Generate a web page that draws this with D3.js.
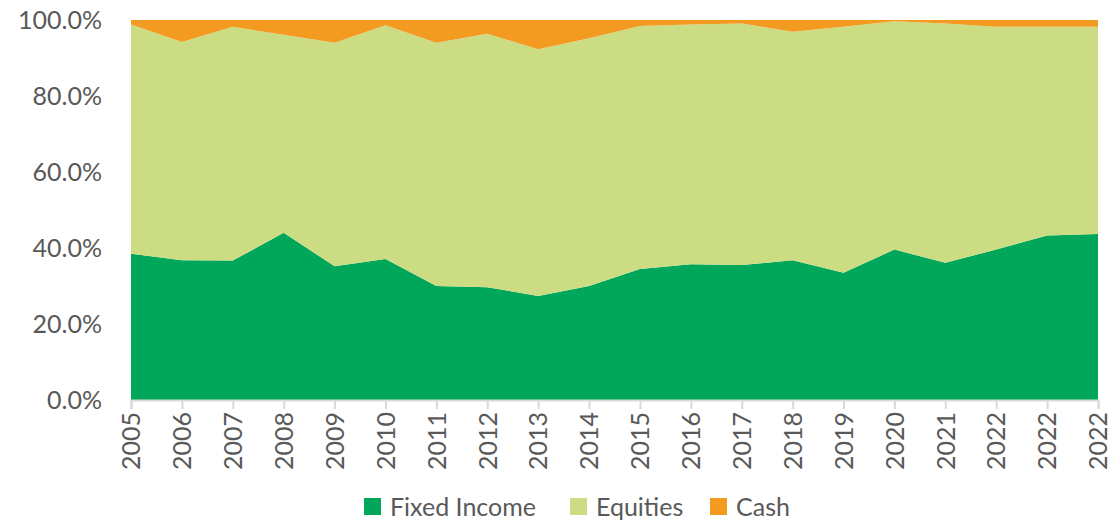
<!DOCTYPE html>
<html>
<head>
<meta charset="utf-8">
<script src="https://cdn.jsdelivr.net/npm/d3@7"></script>
<style>
  body { margin: 0; background: #fff; }
  svg text { font-family: "Lato", "Noto Sans", sans-serif; fill: #595959; }
</style>
</head>
<body>
<div id="vis"></div>
<script>
const margin = { top: 20, right: 11, bottom: 120, left: 131 };
const width = 1109;
const height = 520;

const years = ["2005", "2006", "2007", "2008", "2009", "2010", "2011", "2012", "2013", "2014",
    "2015", "2016", "2017", "2018", "2019", "2020", "2021", "2022", "2022", "2022"];
const fixedIncome = [38.5, 36.8, 36.7, 44.0, 35.2, 37.1, 30.0, 29.7, 27.4, 30.0,
    34.5, 35.7, 35.5, 36.8, 33.5, 39.6, 36.1, 39.6, 43.3, 43.7];
const cash = [1.2, 5.8, 1.8, 3.9, 6.0, 1.4, 6.0, 3.6, 7.7, 4.8,
    1.6, 1.2, 0.9, 3.1, 1.8, 0.3, 0.9, 1.8, 1.8, 1.8];
const equities = fixedIncome.map((d, i) => +(100 - d - cash[i]).toFixed(1));
const yTicks = [0, 20, 40, 60, 80, 100];

const seriesKeys = ["Fixed Income", "Equities", "Cash"];
const seriesColors = {
    "Fixed Income": "#00a65a",
    "Equities": "#ccdc82",
    "Cash": "#f39a21"
};

const rows = years.map((y, i) => ({
    idx: i,
    "Fixed Income": fixedIncome[i],
    "Equities": equities[i],
    "Cash": cash[i]
}));

const svg = d3.select("#vis").append("svg")
    .attr("width", width)
    .attr("height", height);

let xScale = d3.scaleLinear()
    .domain([0, years.length - 1])
    .range([margin.left, width - margin.right]);

let yScale = d3.scaleLinear()
    .domain([0, 100])
    .range([height - margin.bottom, margin.top]);

const stacked = d3.stack().keys(seriesKeys)(rows);

const area = d3.area()
    .x(d => xScale(d.data.idx))
    .y0(d => yScale(d[0]))
    .y1(d => yScale(d[1]));

svg.selectAll("path.layer")
    .data(stacked)
    .enter().append("path")
    .attr("class", "layer")
    .attr("fill", d => seriesColors[d.key])
    .attr("d", area);

// y axis labels, no line
svg.append("g")
    .selectAll("text")
    .data(yTicks)
    .enter().append("text")
    .attr("x", 102)
    .attr("y", d => yScale(d))
    .attr("dy", "0.35em")
    .attr("text-anchor", "end")
    .style("font-size", "25px")
    .text(d => d.toFixed(1) + "%");

// x axis
const xAxis = svg.append("g")
    .attr("transform", `translate(0,${height - margin.bottom})`)
    .call(d3.axisBottom(xScale)
        .tickValues(d3.range(years.length))
        .tickSize(9)
        .tickFormat(i => years[i]));

xAxis.select(".domain").attr("stroke", "#d9d9d9").attr("stroke-width", 2);
xAxis.selectAll(".tick line").attr("stroke", "#d9d9d9").attr("stroke-width", 2);
xAxis.selectAll(".tick text")
    .attr("transform", "rotate(-90)")
    .attr("x", -12)
    .attr("y", 0)
    .attr("dy", "0.35em")
    .attr("text-anchor", "end")
    .style("font-size", "25px")
    .style("font-family", "Lato, 'Noto Sans', sans-serif")
    .attr("fill", "#595959");

// legend
const legendItems = [
    { key: "Fixed Income", x: 364 },
    { key: "Equities", x: 570 },
    { key: "Cash", x: 710 }
];
const legend = svg.append("g");
legend.selectAll("rect")
    .data(legendItems)
    .enter().append("rect")
    .attr("x", d => d.x)
    .attr("y", 498)
    .attr("width", 17)
    .attr("height", 17)
    .attr("fill", d => seriesColors[d.key]);
legend.selectAll("text")
    .data(legendItems)
    .enter().append("text")
    .attr("x", d => d.x + 26)
    .attr("y", 507)
    .attr("dy", "0.35em")
    .style("font-size", "25px")
    .text(d => d.key);
</script>
</body>
</html>
